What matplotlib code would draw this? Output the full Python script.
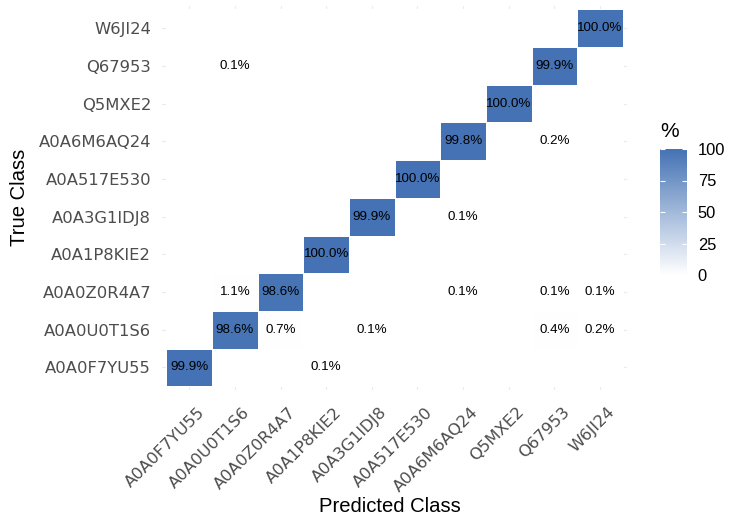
import numpy as np
import matplotlib.pyplot as plt
from matplotlib.colors import LinearSegmentedColormap
from matplotlib.transforms import ScaledTranslation

classes = [
    "A0A0F7YU55",
    "A0A0U0T1S6",
    "A0A0Z0R4A7",
    "A0A1P8KIE2",
    "A0A3G1IDJ8",
    "A0A517E530",
    "A0A6M6AQ24",
    "Q5MXE2",
    "Q67953",
    "W6JI24",
]

# non-zero cells of the confusion matrix (row-normalised, %)
true_class = [
    "A0A0F7YU55", "A0A0F7YU55",
    "A0A0U0T1S6", "A0A0U0T1S6", "A0A0U0T1S6", "A0A0U0T1S6", "A0A0U0T1S6",
    "A0A0Z0R4A7", "A0A0Z0R4A7", "A0A0Z0R4A7", "A0A0Z0R4A7", "A0A0Z0R4A7",
    "A0A1P8KIE2",
    "A0A3G1IDJ8", "A0A3G1IDJ8",
    "A0A517E530",
    "A0A6M6AQ24", "A0A6M6AQ24",
    "Q5MXE2",
    "Q67953", "Q67953",
    "W6JI24",
]
pred_class = [
    "A0A0F7YU55", "A0A1P8KIE2",
    "A0A0U0T1S6", "A0A0Z0R4A7", "A0A3G1IDJ8", "Q67953", "W6JI24",
    "A0A0U0T1S6", "A0A0Z0R4A7", "A0A6M6AQ24", "Q67953", "W6JI24",
    "A0A1P8KIE2",
    "A0A3G1IDJ8", "A0A6M6AQ24",
    "A0A517E530",
    "A0A6M6AQ24", "Q67953",
    "Q5MXE2",
    "A0A0U0T1S6", "Q67953",
    "W6JI24",
]
percent = [
    99.9, 0.1,
    98.6, 0.7, 0.1, 0.4, 0.2,
    1.1, 98.6, 0.1, 0.1, 0.1,
    100.0,
    99.9, 0.1,
    100.0,
    99.8, 0.2,
    100.0,
    0.1, 99.9,
    100.0,
]

n = len(classes)
pos = {c: i for i, c in enumerate(classes)}
mat = np.zeros((n, n))
for t, p, v in zip(true_class, pred_class, percent):
    mat[pos[t], pos[p]] = v

W, H = 729, 516
fig = plt.figure(figsize=(W / 100, H / 100), dpi=100)
ax = fig.add_axes([161.9 / W, 1 - 390 / H, 465.5 / W, 384.3 / H])

cmap = LinearSegmentedColormap.from_list("wb", ["#FFFFFF", "#4472B4"])
edges = np.arange(n + 1) - 0.5
mesh = ax.pcolormesh(edges, edges, mat, cmap=cmap, vmin=0, vmax=100,
                     edgecolors="white", linewidth=0.6)

for t, p, v in zip(true_class, pred_class, percent):
    ax.text(pos[p], pos[t], f"{v:.1f}%", ha="center", va="center",
            fontsize=9.6, family="Liberation Sans", color="black")

ax.set_xlim(-0.6, n - 0.4)
ax.set_ylim(-0.6, n - 0.4)
ax.set_xticks(range(n))
ax.set_yticks(range(n))
ax.set_xticklabels(classes, rotation=45, ha="right", va="top", rotation_mode="anchor")
ax.set_yticklabels(classes)
for s in ax.spines.values():
    s.set_visible(False)
ax.tick_params(length=0, labelsize=11.8, labelcolor="#4D4D4D")
ax.tick_params(axis="x", pad=10.4)
ax.tick_params(axis="y", pad=7.8)
ax.grid(True, color="#EBEBEB", lw=0.8)
ax.set_axisbelow(True)

shift = ScaledTranslation(0.075, 0, fig.dpi_scale_trans)
for lab in ax.get_xticklabels():
    lab.set_transform(lab.get_transform() + shift)

fig.text(390 / W, 1 - 511.7 / H, "Predicted Class", ha="center", va="baseline",
         fontsize=14.6, family="Liberation Sans")
fig.text(20 / W, 1 - 197 / H, "True Class", rotation=90, ha="center", va="center",
         fontsize=14.6, family="Liberation Sans")

# colour bar legend
cax = fig.add_axes([660 / W, 1 - 275 / H, 26.7 / W, 126 / H])
cb = fig.colorbar(mesh, cax=cax, ticks=[0, 25, 50, 75, 100])
cb.outline.set_visible(False)
cax.tick_params(axis="y", which="major", direction="in", length=3.8, width=0.8,
                color="white", left=True, right=True, labelsize=11.9, pad=8)
cax.minorticks_off()
for lab in cax.get_yticklabels():
    lab.set_family("Liberation Sans")
fig.text(660.5 / W, 1 - 136.7 / H, "%", ha="left", va="baseline",
         fontsize=15, family="Liberation Sans")

fig.savefig("out.png", dpi=100)
